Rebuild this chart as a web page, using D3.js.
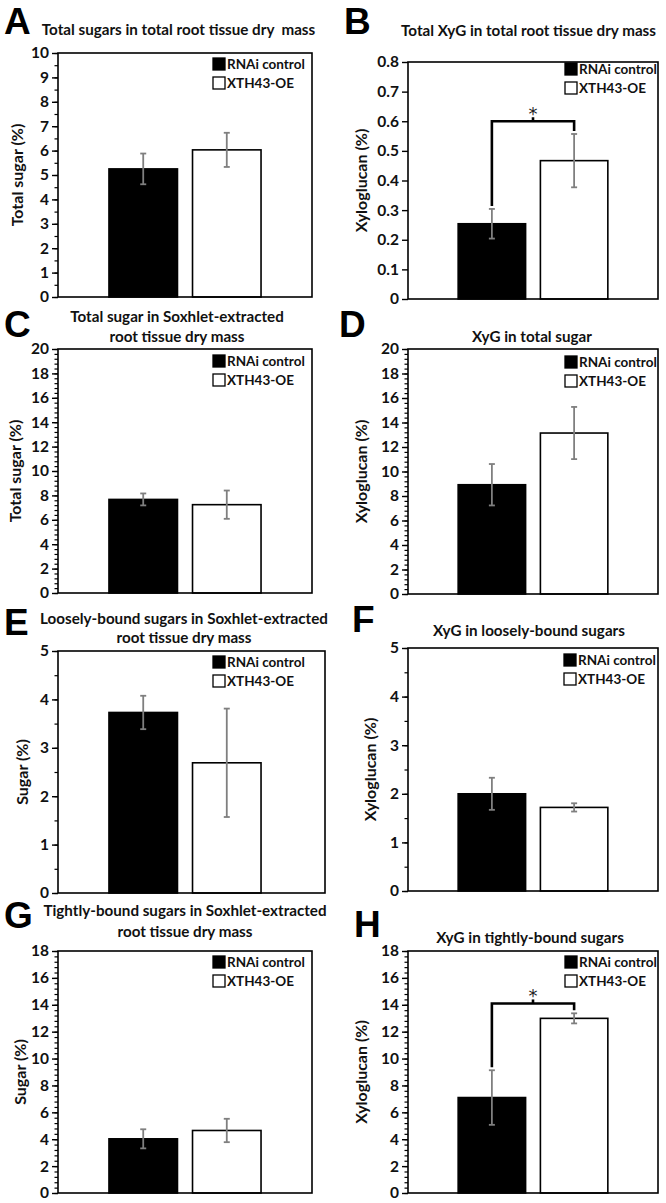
<!DOCTYPE html>
<html><head><meta charset="utf-8">
<script src="https://cdn.jsdelivr.net/npm/d3@7"></script>
<style>body{margin:0;background:#fff}svg text{white-space:pre}</style>
</head><body>
<svg id="chart" width="666" height="1203"></svg>
<script>
// ---------- data ----------
const panelLetters = ["A","B","C","D","E","F","G","H"];
const titles = [
  ["Total sugars in total root tissue dry  mass"],
  ["Total XyG in total root tissue dry mass"],
  ["Total sugar in Soxhlet-extracted","root tissue dry mass"],
  ["XyG in total sugar"],
  ["Loosely-bound sugars in Soxhlet-extracted","root tissue dry mass"],
  ["XyG in loosely-bound sugars"],
  ["Tightly-bound sugars in Soxhlet-extracted","root tissue dry mass"],
  ["XyG in tightly-bound sugars"]
];
const yLabels = ["Total sugar (%)","Xyloglucan (%)","Total sugar (%)","Xyloglucan (%)",
                 "Sugar (%)","Xyloglucan (%)","Sugar (%)","Xyloglucan (%)"];
const seriesNames = ["RNAi control","XTH43-OE"];
const rnaiMeans  = [5.25, 0.254, 7.67, 8.92, 3.73, 2.00, 4.03, 7.10];
const rnaiErrors = [0.63, 0.050, 0.49, 1.69, 0.345, 0.33, 0.71, 2.03];
const oeMeans    = [6.03, 0.467, 7.24, 13.14, 2.69, 1.72, 4.65, 12.99];
const oeErrors   = [0.70, 0.090, 1.16, 2.13, 1.12, 0.085, 0.87, 0.375];
const yMax       = [10, 0.8, 20, 20, 5, 5, 18, 18];
const yMajorStep = [1, 0.1, 2, 2, 1, 1, 2, 2];
const yMinorStep = [0.5, null, 0.4, 0.4, 0.5, 0.5, 0.4, 0.4];
const sigLevel   = [null, 0.6, null, null, null, null, null, 14.1];

// ---------- layout ----------
const plotLeft   = [58, 408, 58, 408, 58, 408, 58, 408];
const plotRight  = [312, 658, 312, 658, 312, 658, 312, 658];
const frameRight = [312, 658, 312, 658, 325, 658, 312, 658];
const plotTop    = [53, 62, 349, 349, 651, 648, 951, 951];
const plotBottom = [297, 299, 593, 594, 893, 891, 1193, 1193];
const titleX     = [178.5, 528.5, 177, 532, 184, 529, 185, 530];
const titleY     = [[35],[36],[322,342],[342],[624,643],[636],[916,937],[943]];
const letterX    = [4, 344, 4, 339, 4, 352, 4, 354];
const letterY    = [34, 34, 337, 337, 635, 632, 928, 937];
const yLabelX    = [17, 361, 15, 361, 22, 370, 20, 361];
const legendX    = [213, 565, 213, 565, 213, 564, 213, 565];
const legendTop  = [58, 63, 355, 356, 656, 654, 956, 956];

const FONT = "Lato, 'Open Sans', sans-serif";
const svg = d3.select("#chart");

for (let i = 0; i < 8; i++) {
  const g = svg.append("g");
  const y = d3.scaleLinear().domain([0, yMax[i]]).range([plotBottom[i], plotTop[i]]);
  const x = d3.scaleBand().domain(seriesNames)
      .range([plotLeft[i], plotRight[i]]).paddingInner(0.18).paddingOuter(0.61);

  const nMaj = Math.round(yMax[i] / yMajorStep[i]);
  const majors = d3.range(nMaj + 1).map(k => +(k * yMajorStep[i]).toFixed(4));
  const fmt = yMajorStep[i] < 1 ? (d => d === 0 ? "0" : d3.format(".1f")(d)) : d3.format("d");

  // minor ticks
  if (yMinorStep[i]) {
    const nMin = Math.round(yMax[i] / yMinorStep[i]);
    const minors = d3.range(nMin + 1).map(k => +(k * yMinorStep[i]).toFixed(4));
    const ma = g.append("g").attr("transform", `translate(${plotLeft[i]},0)`)
      .call(d3.axisLeft(y).tickValues(minors).tickSize(3.5).tickFormat(""));
    ma.select(".domain").remove();
    ma.selectAll("line").attr("stroke", "#000").attr("stroke-width", 1.2);
  }
  // major ticks
  const ax = g.append("g").attr("transform", `translate(${plotLeft[i]},0)`)
    .call(d3.axisLeft(y).tickValues(majors).tickSize(6).tickPadding(3).tickFormat(fmt));
  ax.select(".domain").remove();
  ax.selectAll("line").attr("stroke", "#000").attr("stroke-width", 1.4);
  ax.selectAll("text").attr("font-family", FONT).attr("font-weight", 700)
    .attr("font-size", 15.5).attr("fill", "#111");

  // bars
  const means = [rnaiMeans[i], oeMeans[i]];
  const errs = [rnaiErrors[i], oeErrors[i]];
  const fills = ["#000", "#fff"];
  seriesNames.forEach((s, j) => {
    g.append("rect")
      .attr("x", x(s)).attr("width", x.bandwidth())
      .attr("y", y(means[j])).attr("height", y(0) - y(means[j]))
      .attr("fill", fills[j]).attr("stroke", "#000").attr("stroke-width", 1.6);
  });
  // error bars
  seriesNames.forEach((s, j) => {
    const cx = x(s) + x.bandwidth() / 2;
    const eg = g.append("g").attr("stroke", "#7f7f7f").attr("stroke-width", 1.8);
    eg.append("line").attr("x1", cx).attr("x2", cx)
      .attr("y1", y(means[j] - errs[j])).attr("y2", y(means[j] + errs[j]));
    [means[j] - errs[j], means[j] + errs[j]].forEach(v => {
      eg.append("line").attr("x1", cx - 3).attr("x2", cx + 3).attr("y1", y(v)).attr("y2", y(v));
    });
  });

  // frame
  g.append("rect").attr("x", plotLeft[i]).attr("y", plotTop[i])
    .attr("width", frameRight[i] - plotLeft[i]).attr("height", plotBottom[i] - plotTop[i])
    .attr("fill", "none").attr("stroke", "#000").attr("stroke-width", 1.6);

  // significance bracket
  if (sigLevel[i] !== null) {
    const c0 = x(seriesNames[0]) + x.bandwidth() / 2;
    const c1 = x(seriesNames[1]) + x.bandwidth() / 2;
    const yb = y(sigLevel[i]);
    const bg = g.append("g").attr("stroke", "#000").attr("stroke-width", 2.6).attr("fill", "none");
    bg.append("path").attr("d",
      `M${c0},${y(means[0] + errs[0]) - 3}V${yb}H${c1}V${y(means[1] + errs[1]) - 3}`);
    bg.append("line").attr("x1", (c0 + c1) / 2).attr("x2", (c0 + c1) / 2)
      .attr("y1", yb).attr("y2", yb - 4);
    g.append("text").attr("x", (c0 + c1) / 2).attr("y", yb - 1)
      .attr("text-anchor", "middle").attr("font-family", "'DejaVu Sans', sans-serif")
      .attr("font-size", 18).attr("fill", "#222").text("*");
  }

  // legend
  seriesNames.forEach((s, j) => {
    const ly = legendTop[i] + j * 19;
    g.append("rect").attr("x", legendX[i]).attr("y", ly).attr("width", 12).attr("height", 12)
      .attr("fill", fills[j]).attr("stroke", "#000").attr("stroke-width", 1.3);
    g.append("text").attr("x", legendX[i] + 14).attr("y", ly + 11)
      .attr("font-family", FONT).attr("font-weight", 700).attr("font-size", 13.5)
      .attr("fill", "#111").text(s);
  });

  // y label
  const cy = (plotTop[i] + plotBottom[i]) / 2;
  g.append("text").attr("transform", `translate(${yLabelX[i]},${cy}) rotate(-90)`)
    .attr("text-anchor", "middle").attr("dy", "0.35em")
    .attr("font-family", FONT).attr("font-weight", 700).attr("font-size", 16)
    .attr("fill", "#111").text(yLabels[i]);

  // title
  titles[i].forEach((line, k) => {
    g.append("text").attr("x", titleX[i]).attr("y", titleY[i][k]).attr("text-anchor", "middle")
      .attr("font-family", FONT).attr("font-weight", 700).attr("font-size", 15.2)
      .attr("fill", "#111").text(line);
  });

  // panel letter
  g.append("text").attr("x", letterX[i]).attr("y", letterY[i])
    .attr("font-family", "'Liberation Sans', Arial, sans-serif").attr("font-weight", 700)
    .attr("font-size", 37).attr("fill", "#000").text(panelLetters[i]);
}
</script>
</body></html>
